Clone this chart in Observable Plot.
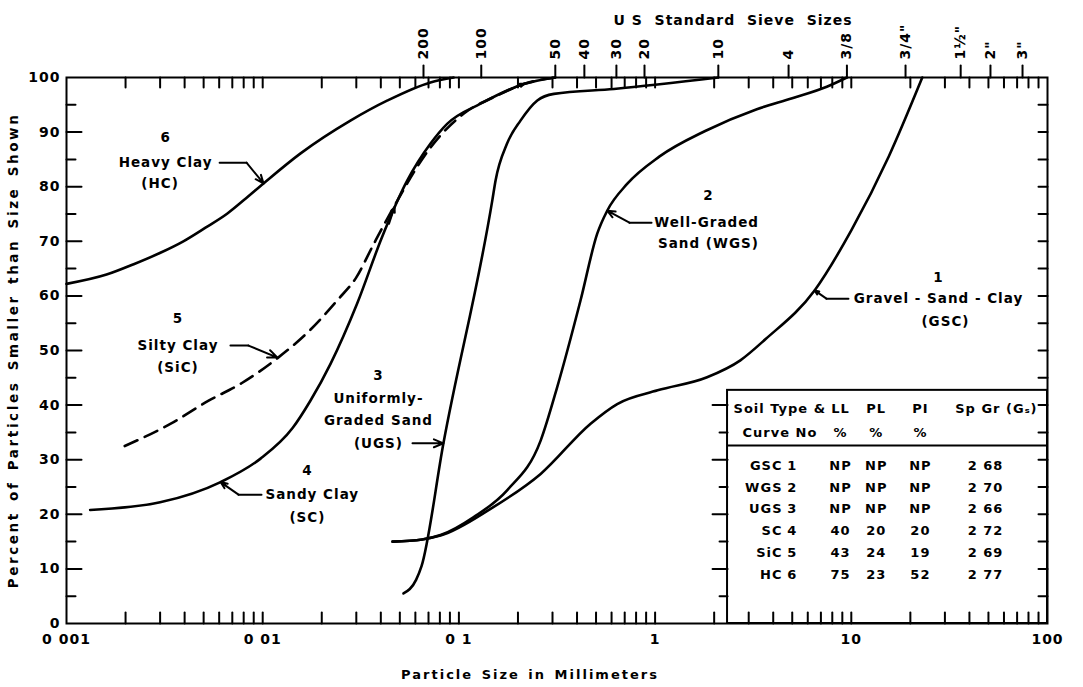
<!DOCTYPE html>
<html>
<head>
<meta charset="utf-8">
<script src="https://cdn.jsdelivr.net/npm/d3@7"></script>
<script src="https://cdn.jsdelivr.net/npm/@observablehq/plot@0.6"></script>
<style>
  html, body { margin: 0; padding: 0; background: #fff; }
  #chart svg { display: block; }
</style>
</head>
<body>
<div id="chart"></div>
<script>
// ---------------- data ----------------
const xTickValues = [0.001, 0.01, 0.1, 1, 10, 100];
const xTickLabels = ["0 001", "0 01", "0 1", "1", "10", "100"];
const yTickValues = [0, 10, 20, 30, 40, 50, 60, 70, 80, 90, 100];

const sieveNames = ["200", "100", "50", "40", "30", "20", "10", "4", "3/8", '3/4"', '1½"', '2"', '3"'];
const sieveSizes = [0.066, 0.13, 0.31, 0.436, 0.635, 0.883, 2.1, 4.79, 9.5, 18.9, 36.1, 51.2, 74.6];

// 1 Gravel-Sand-Clay
const gscSize = [0.0459, 0.065, 0.0806, 0.145, 0.261, 0.469, 0.641, 1.03, 1.84, 2.72, 3.66, 6.5, 10.0, 15.5, 23.0];
const gscPct  = [15.0, 15.4, 16.1, 21.0, 27.4, 36.6, 40.2, 42.7, 45.1, 48.2, 52.1, 61.0, 72.0, 85.5, 100];
// 2 Well-Graded Sand
const wgsSize = [0.0459, 0.065, 0.0806, 0.119, 0.176, 0.261, 0.317, 0.417, 0.507, 0.57, 0.72, 1.05, 1.8, 3.3, 5.0, 7.5, 9.5];
const wgsPct  = [15.0, 15.4, 16.2, 19.5, 24.4, 33.5, 43.3, 59.2, 71.4, 75.6, 80.5, 85.5, 90.2, 94.2, 96.2, 98.3, 100];
// 3 Uniformly-Graded Sand
const ugsSize = [0.0522, 0.0605, 0.0645, 0.0834, 0.148, 0.1537, 0.176, 0.206, 0.251, 0.305, 0.617, 2.1];
const ugsPct  = [5.5, 8.0, 10.5, 33.0, 77.5, 81.1, 87.9, 92.1, 95.8, 97.0, 97.9, 100];
// 4 Sandy Clay
const scSize = [0.00132, 0.0030, 0.0061, 0.00975, 0.0142, 0.0175, 0.0222, 0.0303, 0.0405, 0.0545, 0.0717, 0.0871, 0.129, 0.214, 0.31];
const scPct  = [20.8, 22.2, 25.9, 30.2, 35.8, 40.8, 47.6, 58.6, 70.7, 81.1, 87.9, 91.5, 95.2, 98.8, 100];
// 5 Silty Clay (dashed)
const sicSize = [0.00198, 0.0034, 0.0053, 0.0078, 0.0119, 0.0175, 0.024, 0.030, 0.0368, 0.0464, 0.0717, 0.106, 0.157, 0.214, 0.31];
const sicPct  = [32.5, 36.6, 40.8, 44.0, 48.6, 53.8, 59.2, 63.4, 69.5, 76.2, 87.2, 93.4, 96.7, 98.8, 100];
// 6 Heavy Clay
const hcSize = [0.001, 0.0016, 0.0022, 0.00301, 0.00394, 0.00511, 0.00661, 0.00817, 0.0101, 0.0156, 0.028, 0.0433, 0.0716, 0.094];
const hcPct  = [62.2, 63.9, 65.8, 67.9, 70.0, 72.5, 75.1, 77.8, 80.6, 86.1, 92.1, 95.8, 99.1, 100];

// table
const tableAbbr = ["GSC", "WGS", "UGS", "SC", "SiC", "HC"];
const tableNo   = ["1", "2", "3", "4", "5", "6"];
const tableLL   = ["NP", "NP", "NP", "40", "43", "75"];
const tablePL   = ["NP", "NP", "NP", "20", "24", "23"];
const tablePI   = ["NP", "NP", "NP", "20", "19", "52"];
const tableGs   = ["2 68", "2 70", "2 66", "2 72", "2 69", "2 77"];

// ---------------- assembly ----------------
const curves = [
  {name: "GSC", size: gscSize, pct: gscPct, dashed: false},
  {name: "WGS", size: wgsSize, pct: wgsPct, dashed: false},
  {name: "UGS", size: ugsSize, pct: ugsPct, dashed: false},
  {name: "SC",  size: scSize,  pct: scPct,  dashed: false},
  {name: "SiC", size: sicSize, pct: sicPct, dashed: true},
  {name: "HC",  size: hcSize,  pct: hcPct,  dashed: false}
];
const rows = curves.flatMap(c => c.size.map((s, i) => ({curve: c.name, size: s, pct: c.pct[i], dashed: c.dashed})));

// annotation layout (data units)
const curveLabels = [
  {t: "6", x: 0.0032, y: 89.0}, {t: "Heavy Clay", x: 0.0032, y: 84.4}, {t: "(HC)", x: 0.0030, y: 80.6},
  {t: "5", x: 0.0037, y: 55.9}, {t: "Silty Clay", x: 0.0037, y: 50.9}, {t: "(SiC)", x: 0.0037, y: 46.9},
  {t: "3", x: 0.0389, y: 45.4}, {t: "Uniformly-", x: 0.0389, y: 41.2}, {t: "Graded Sand", x: 0.0389, y: 37.2}, {t: "(UGS)", x: 0.0389, y: 33.0},
  {t: "4", x: 0.0169, y: 28.0}, {t: "Sandy Clay", x: 0.0179, y: 23.6}, {t: "(SC)", x: 0.0169, y: 19.4},
  {t: "2", x: 1.87, y: 78.4}, {t: "Well-Graded", x: 1.83, y: 73.4}, {t: "Sand (WGS)", x: 1.87, y: 69.6},
  {t: "1", x: 27.8, y: 63.4}, {t: "Gravel - Sand - Clay", x: 27.8, y: 59.5}, {t: "(GSC)", x: 30.2, y: 55.3}
];
const leaderLines = [
  {k: "HC",  x: 0.00603, y: 84.4}, {k: "HC",  x: 0.00827, y: 84.4},
  {k: "SiC", x: 0.00685, y: 50.9}, {k: "SiC", x: 0.00846, y: 50.9},
  {k: "SC",  x: 0.00986, y: 23.6}, {k: "SC",  x: 0.00753, y: 23.6},
  {k: "WGS", x: 0.959, y: 73.4},   {k: "WGS", x: 0.74, y: 73.4},
  {k: "GSC", x: 9.67, y: 59.5},    {k: "GSC", x: 7.47, y: 59.5}
];
const leaderArrows = [
  {x1: 0.00827, y1: 84.4, x2: 0.0101, y2: 80.6},
  {x1: 0.00846, y1: 50.9, x2: 0.0119, y2: 48.7},
  {x1: 0.058,   y1: 33.0, x2: 0.0834, y2: 33.0},
  {x1: 0.00753, y1: 23.6, x2: 0.0061, y2: 25.9},
  {x1: 0.74,    y1: 73.4, x2: 0.57,   y2: 75.6},
  {x1: 7.47,    y1: 59.5, x2: 6.5,    y2: 61.0}
];
// small arrowheads drawn along curves in the original
const curveArrows = [
  {x1: 0.0440, y1: 73.2, x2: 0.0470, y2: 76.3},
  {x1: 0.185, y1: 97.9, x2: 0.216, y2: 98.9}
];

// table layout
const tabX0 = 2.34, tabTop = 42.7, tabSep = 32.6;
const rowY = tableAbbr.map((_, i) => 28.9 - i * 3.98);
const tableCells = [];
tableAbbr.forEach((a, i) => {
  tableCells.push({t: a, x: 4.46, y: rowY[i], anchor: "end"});
  tableCells.push({t: tableNo[i], x: 5.0, y: rowY[i], anchor: "middle"});
  tableCells.push({t: tableLL[i], x: 8.81, y: rowY[i], anchor: "middle"});
  tableCells.push({t: tablePL[i], x: 13.4, y: rowY[i], anchor: "middle"});
  tableCells.push({t: tablePI[i], x: 22.5, y: rowY[i], anchor: "middle"});
  tableCells.push({t: tableGs[i], x: 48.3, y: rowY[i], anchor: "middle"});
});
const tableHead = [
  {t: "Soil Type &", x: 2.51, y: 39.4, anchor: "start"},
  {t: "Curve No", x: 2.79, y: 35.0, anchor: "start"},
  {t: "LL", x: 8.81, y: 39.4, anchor: "middle"}, {t: "%", x: 8.81, y: 35.0, anchor: "middle"},
  {t: "PL", x: 13.4, y: 39.4, anchor: "middle"}, {t: "%", x: 13.4, y: 35.0, anchor: "middle"},
  {t: "PI", x: 22.5, y: 39.4, anchor: "middle"}, {t: "%", x: 22.5, y: 35.0, anchor: "middle"},
  {t: "Sp Gr (Gₛ)", x: 54.9, y: 39.4, anchor: "middle"}
];

// axis tick positions
const logTicks = [];
for (let e = -3; e <= 1; e++) for (let k = 1; k <= 9; k++) {
  const v = k * Math.pow(10, e);
  if (v > 0.001 && v < 100) logTicks.push(v);
}
const fives = d3.range(5, 100, 5);
const longY = fives.filter(d => d % 10 === 0);
const shortY = fives.filter(d => d % 10 !== 0);
const tabLong = [10, 20, 30, 40];
const tabShort = [5, 15, 25, 35];

const tickShape = {draw(context, l) { context.moveTo(0, 0); context.lineTo(0, -l); }};
const vt = (data, opts) => Plot.vector(data, {anchor: "start", shape: tickShape, strokeWidth: 2, stroke: "black", ...opts});

const FONT = "DejaVu Sans";

const chart = Plot.plot({
  width: 1083,
  height: 687,
  marginLeft: 66,
  marginRight: 36,
  marginTop: 77,
  marginBottom: 64,
  x: {type: "log", domain: [0.001, 100]},
  y: {domain: [0, 100]},
  style: {fontFamily: FONT, fontWeight: "bold", letterSpacing: "1px", color: "black", background: "white"},
  marks: [
    // table box
    Plot.rect([0], {x1: tabX0, x2: 100, y1: 0, y2: tabTop, fill: "white", stroke: "black", strokeWidth: 2}),
    Plot.ruleY([tabSep], {x1: tabX0, x2: 100, stroke: "black", strokeWidth: 2}),
    // curves
    Plot.line(rows.filter(d => !d.dashed), {x: "size", y: "pct", z: "curve", stroke: "black", strokeWidth: 2.6, curve: "monotone-x"}),
    Plot.line(rows.filter(d => d.dashed), {x: "size", y: "pct", z: "curve", stroke: "black", strokeWidth: 2.6, strokeDasharray: "14,8", curve: "monotone-x"}),
    Plot.arrow(curveArrows, {x1: "x1", y1: "y1", x2: "x2", y2: "y2", stroke: "black", strokeWidth: 2, headLength: 9, headAngle: 40}),
    Plot.frame({stroke: "black", strokeWidth: 2}),
    // ticks
    vt(longY, {x: 0.001, y: d => d, length: 15, rotate: 90}),
    vt(shortY, {x: 0.001, y: d => d, length: 9, rotate: 90}),
    vt(fives, {x: 100, y: d => d, length: 9, rotate: -90}),
    vt(tabLong, {x: tabX0, y: d => d, length: 15, rotate: -90}),
    vt(tabShort, {x: tabX0, y: d => d, length: 8, rotate: -90}),
    vt(logTicks, {x: d => d, y: 0, length: 11, rotate: 0}),
    vt(logTicks, {x: d => d, y: 100, length: 10, rotate: 180}),
    vt(sieveSizes, {x: d => d, y: 100, length: 12, rotate: 0}),
    // axes
    Plot.axisY({ticks: yTickValues, tickSize: 0, tickPadding: 6, fontSize: 14, label: null}),
    Plot.axisX({ticks: xTickValues, tickFormat: d => xTickLabels[xTickValues.indexOf(d)], tickSize: 0, tickPadding: 11, fontSize: 14, label: null}),
    // sieve labels
    Plot.text(sieveSizes, {x: d => d, y: 100, text: (d, i) => sieveNames[i], dy: -18, rotate: -90, textAnchor: "start", fontSize: 14}),
    // titles
    Plot.text(["U S  Standard  Sieve  Sizes"], {frameAnchor: "top", dx: 176, dy: -62, fontSize: 14}),
    Plot.text(["Particle Size in Millimeters"], {frameAnchor: "bottom", textAnchor: "middle", dx: -27, dy: 55, fontSize: 13}),
    Plot.text(["Percent of Particles Smaller than Size Shown"], {frameAnchor: "left", textAnchor: "middle", dx: -53, rotate: -90, fontSize: 13.5}),
    // curve labels & leaders
    Plot.text(curveLabels, {x: "x", y: "y", text: "t", fontSize: 13.5}),
    Plot.line(leaderLines, {x: "x", y: "y", z: "k", stroke: "black", strokeWidth: 2}),
    Plot.arrow(leaderArrows, {x1: "x1", y1: "y1", x2: "x2", y2: "y2", stroke: "black", strokeWidth: 2, headLength: 9, headAngle: 45}),
    // table text
    Plot.text(tableHead.filter(d => d.anchor === "start"), {x: "x", y: "y", text: "t", textAnchor: "start", fontSize: 13}),
    Plot.text(tableHead.filter(d => d.anchor === "middle"), {x: "x", y: "y", text: "t", textAnchor: "middle", fontSize: 13}),
    Plot.text(tableCells.filter(d => d.anchor === "end"), {x: "x", y: "y", text: "t", textAnchor: "end", fontSize: 13}),
    Plot.text(tableCells.filter(d => d.anchor === "middle"), {x: "x", y: "y", text: "t", textAnchor: "middle", fontSize: 13})
  ]
});
document.getElementById("chart").appendChild(chart);

// spacing tweaks for the wide hand lettering of the axis titles
d3.select(chart).selectAll("text").each(function() {
  const s = this.textContent;
  if (s.startsWith("Percent of")) d3.select(this).style("letter-spacing", "2.6px").style("word-spacing", "3px");
  if (s.startsWith("Particle Size")) d3.select(this).style("letter-spacing", "2px").style("word-spacing", "2px");
});
</script>
</body>
</html>
